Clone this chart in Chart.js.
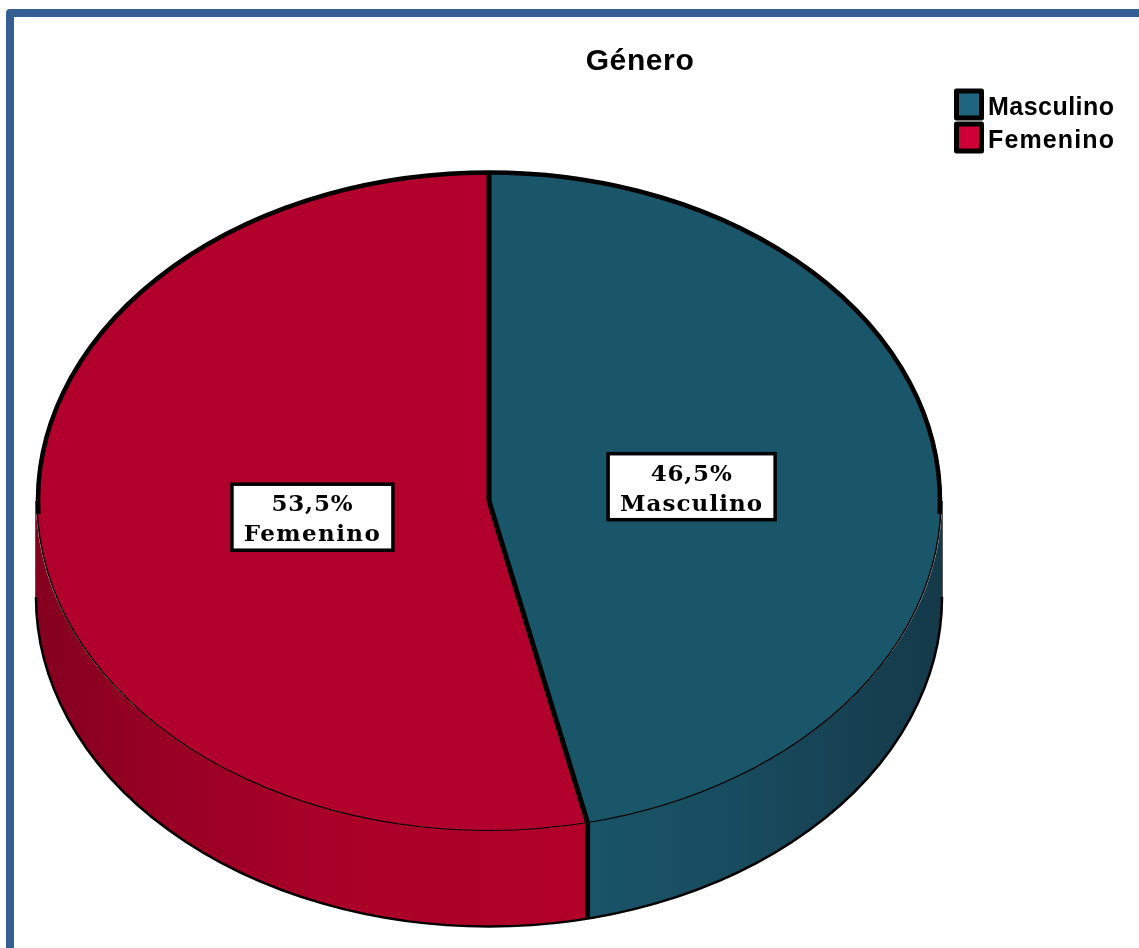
<!DOCTYPE html>
<html>
<head>
<meta charset="utf-8">
<title>Género</title>
<script src="https://cdn.jsdelivr.net/npm/chart.js@4"></script>
<style>
    html, body { margin: 0; padding: 0; background: #fff; overflow: hidden; }
    #frame { position: absolute; left: 6px; top: 9px; width: 1300px; height: 1100px; border: 8px solid #355f93; border-radius: 4px; }
    #generoChart { position: absolute; left: 0; top: 0; }
</style>
</head>
<body>
<div id="frame"></div>
<canvas id="generoChart" width="1139" height="948"></canvas>
<script>
const titulo = 'Género';
const categorias = ['Masculino', 'Femenino'];
const porcentajes = [46.5, 53.5];
const coloresCara = ['#195669', '#b1002b'];
const coloresLeyenda = ['#1f6582', '#cf0035'];
// colour stops of the side wall, left to right
const paredes = [
    [[0, '#195468'], [0.4, '#184c60'], [0.8, '#163f50'], [1, '#143a4a']],
    [[0, '#85001f'], [0.2, '#950022'], [0.5, '#a80028'], [1, '#b1002a']]
];
// how far from the centre each box sits, as a share of the radius
const distanciaEtiqueta = [0.451, 0.393];
const anchoEtiqueta = [142, 136];

const cx = 489, cy = 501, rx = 452, ry = 329.5, altura = 96;

function dibujarParedes(chart) {
    const ctx = chart.ctx;
    const arcos = chart.getDatasetMeta(0).data;
    arcos.forEach((arco, i) => {
        const ini = Math.max(arco.startAngle, 0);
        const fin = Math.min(arco.endAngle, Math.PI);
        if (fin <= ini) return;
        const grad = ctx.createLinearGradient(cx + rx * Math.cos(fin), 0, cx + rx * Math.cos(ini), 0);
        paredes[i].forEach(s => grad.addColorStop(s[0], s[1]));
        ctx.beginPath();
        ctx.ellipse(cx, cy, rx + 1, ry, 0, ini, fin);
        ctx.ellipse(cx, cy + altura, rx + 1, ry, 0, fin, ini, true);
        ctx.closePath();
        ctx.fillStyle = grad;
        ctx.fill();
    });
    // borde inferior y costados
    ctx.strokeStyle = '#000';
    ctx.lineWidth = 2.5;
    ctx.beginPath();
    ctx.ellipse(cx, cy + altura, rx + 1, ry, 0, 0, Math.PI);
    ctx.stroke();
    ctx.strokeStyle = '#555';
    ctx.lineWidth = 1;
    ctx.beginPath();
    ctx.moveTo(cx + rx + 1.5, cy);
    ctx.lineTo(cx + rx + 1.5, cy + altura);
    ctx.moveTo(cx - rx - 1.5, cy);
    ctx.lineTo(cx - rx - 1.5, cy + altura);
    ctx.stroke();
}

function dibujarBordes(chart) {
    const ctx = chart.ctx;
    const arcos = chart.getDatasetMeta(0).data;
    ctx.strokeStyle = '#000';
    ctx.lineWidth = 4.5;
    ctx.beginPath();
    ctx.ellipse(cx, cy, rx - 1, ry - 1, 0, Math.PI - 0.04, 2 * Math.PI + 0.04);
    ctx.stroke();
    ctx.lineWidth = 5;
    arcos.forEach(arco => {
        const a = arco.startAngle;
        const px = cx + rx * Math.cos(a);
        const py = cy + ry * Math.sin(a);
        ctx.beginPath();
        ctx.moveTo(cx, cy);
        ctx.lineTo(px, py);
        ctx.stroke();
        if (a > 0 && a < Math.PI) {
            ctx.beginPath();
            ctx.moveTo(px, py);
            ctx.lineTo(px, py + altura);
            ctx.stroke();
        }
    });
}

// letter spacing that makes a text fill the width it has in the picture
function ajustarEspacio(ctx, texto, ancho) {
    ctx.letterSpacing = '0px';
    const sobra = ancho - ctx.measureText(texto).width;
    ctx.letterSpacing = (sobra / (texto.length - 1)).toFixed(2) + 'px';
}

function dibujarEtiquetas(chart) {
    const ctx = chart.ctx;
    const arcos = chart.getDatasetMeta(0).data;
    ctx.save();
    ctx.font = 'bold 23px "DejaVu Serif"';
    ctx.textAlign = 'center';
    ctx.textBaseline = 'middle';
    arcos.forEach((arco, i) => {
        const mitad = (arco.startAngle + arco.endAngle) / 2;
        const lx = cx + rx * distanciaEtiqueta[i] * Math.cos(mitad);
        const ly = cy + 2 + ry * distanciaEtiqueta[i] * Math.sin(mitad);
        const ancho = anchoEtiqueta[i] + 25;
        ctx.fillStyle = '#fff';
        ctx.strokeStyle = '#000';
        ctx.lineWidth = 3.5;
        ctx.fillRect(lx - ancho / 2, ly - 33, ancho, 66);
        ctx.strokeRect(lx - ancho / 2, ly - 33, ancho, 66);
        ctx.fillStyle = '#000';
        ctx.letterSpacing = '0.8px';
        ctx.fillText(porcentajes[i].toFixed(1).replace('.', ',') + '%', lx, ly - 12);
        ajustarEspacio(ctx, categorias[i], anchoEtiqueta[i]);
        ctx.fillText(categorias[i], lx, ly + 18);
    });
    ctx.restore();
}

function dibujarTituloLeyenda(chart) {
    const ctx = chart.ctx;
    ctx.save();
    ctx.fillStyle = '#000';
    ctx.textBaseline = 'middle';
    ctx.font = 'bold 30px "Liberation Sans"';
    ctx.letterSpacing = '0.6px';
    ctx.textAlign = 'center';
    ctx.fillText(titulo, 640, 62);
    ctx.font = 'bold 25px "Liberation Sans"';
    ctx.textAlign = 'left';
    ctx.lineJoin = 'round';
    categorias.forEach((cat, i) => {
        const y = 91 + i * 33;
        ctx.fillStyle = coloresLeyenda[i];
        ctx.strokeStyle = '#000';
        ctx.lineWidth = 5;
        ctx.fillRect(956.5, y, 25, 27);
        ctx.strokeRect(956.5, y, 25, 27);
        ctx.fillStyle = '#000';
        ajustarEspacio(ctx, cat, 126);
        ctx.fillText(cat, 988, y + 17);
    });
    ctx.restore();
}

const pastel3d = {
    id: 'pastel3d',
    beforeDatasetsDraw(chart) {
        const ctx = chart.ctx;
        const arco = chart.getDatasetMeta(0).data[0];
        dibujarParedes(chart);
        // aplastar el círculo de Chart.js para que sea la cara elíptica
        ctx.save();
        ctx.translate(cx, cy);
        ctx.scale(rx / arco.outerRadius, ry / arco.outerRadius);
        ctx.translate(-arco.x, -arco.y);
    },
    afterDatasetsDraw(chart) {
        chart.ctx.restore();
        dibujarBordes(chart);
        dibujarEtiquetas(chart);
        dibujarTituloLeyenda(chart);
    }
};

new Chart(document.getElementById('generoChart'), {
    type: 'pie',
    data: {
        labels: categorias,
        datasets: [{
            data: porcentajes,
            backgroundColor: coloresCara,
            borderColor: '#000',
            borderWidth: 1.5,
            clip: false
        }]
    },
    options: {
        responsive: false,
        animation: false,
        layout: { padding: { left: 37, right: 198 } },
        plugins: {
            legend: { display: false },
            title: { display: false },
            tooltip: { enabled: false }
        }
    },
    plugins: [pastel3d]
});
</script>
</body>
</html>
